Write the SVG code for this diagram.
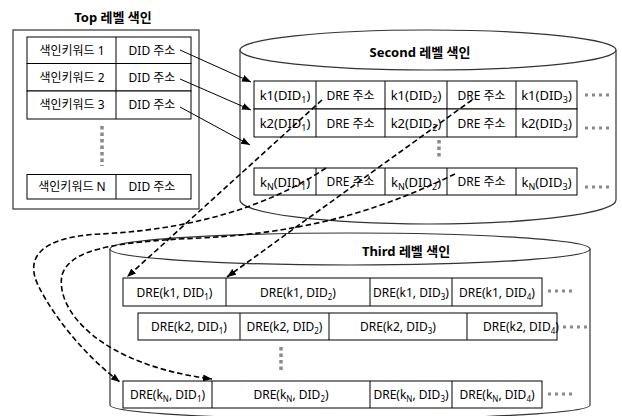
<svg xmlns="http://www.w3.org/2000/svg" width="622" height="416" viewBox="0 0 622 416">
  <style>
    text { font-family: "Noto Sans", "Noto Sans CJK KR", sans-serif; font-size: 12px; fill: #000; text-anchor: middle; }
    .title { font-size: 13px; font-weight: bold; }
    .key { font-size: 13px; }
    .sub { font-size: 8px; }
    .key .sub { font-size: 9px; }
    .cell { fill: #fff; stroke: #000; stroke-width: 1; }
    .div { stroke: #000; stroke-width: 1; }
    .cyl { fill: #fff; stroke: #333; stroke-width: 1.2; }
    .dots { stroke: #8a8a8a; stroke-width: 3; stroke-dasharray: 3 4; fill: none; }
    .vdots { stroke: #8a8a8a; stroke-width: 3.5; stroke-dasharray: 3.5 3; fill: none; }
    .link { stroke: #000; stroke-width: 1; fill: none; }
    .dash { stroke: #000; stroke-width: 1.6; stroke-dasharray: 5.5 3; fill: none; }
  </style>
  <defs>
    <marker id="ah" markerWidth="9" markerHeight="7" refX="9" refY="3.5" orient="auto" markerUnits="userSpaceOnUse">
      <path d="M0,0 L9,3.5 L0,7 z" fill="#000"/>
    </marker>
  </defs>

  <rect width="622" height="416" fill="#fff"/>

  <!-- Top level index -->
  <g id="top-index">
    <text class="title" x="113" y="22">Top 레벨 색인</text>
    <rect x="13" y="30" width="186" height="179" fill="#fff" stroke="#333" stroke-width="1.2"/>
    <g id="top-row-1">
      <rect class="cell" x="27" y="37" width="164" height="26.5"/>
      <line class="div" x1="116" y1="37" x2="116" y2="63.5"/>
      <text x="72" y="54.5">색인키워드 1</text>
      <text x="152" y="54.5">DID 주소</text>
    </g>
    <g id="top-row-2">
      <rect class="cell" x="27" y="63.5" width="164" height="27.5"/>
      <line class="div" x1="116" y1="63.5" x2="116" y2="91"/>
      <text x="72" y="81.5">색인키워드 2</text>
      <text x="152" y="81.5">DID 주소</text>
    </g>
    <g id="top-row-3">
      <rect class="cell" x="27" y="91" width="164" height="28"/>
      <line class="div" x1="116" y1="91" x2="116" y2="119"/>
      <text x="72" y="109">색인키워드 3</text>
      <text x="152" y="109">DID 주소</text>
    </g>
    <line class="vdots" x1="102" y1="126" x2="102" y2="166"/>
    <g id="top-row-n">
      <rect class="cell" x="27" y="174.5" width="164" height="24.5"/>
      <line class="div" x1="116" y1="174.5" x2="116" y2="199"/>
      <text x="72" y="191">색인키워드 N</text>
      <text x="152" y="191">DID 주소</text>
    </g>
  </g>

  <!-- Second level index -->
  <g id="second-index">
    <path class="cyl" d="M240,50 L240,200 A188,24 0 0 0 616,200 L616,50"/>
    <ellipse class="cyl" cx="428" cy="50" rx="188" ry="20"/>
    <text class="title" x="420" y="57">Second 레벨 색인</text>
    <g id="second-row-1">
      <rect class="cell" x="254" y="81" width="323" height="28"/>
      <line class="div" x1="316" y1="81" x2="316" y2="109"/>
      <line class="div" x1="385" y1="81" x2="385" y2="109"/>
      <line class="div" x1="447" y1="81" x2="447" y2="109"/>
      <line class="div" x1="516" y1="81" x2="516" y2="109"/>
      <text class="key" x="285" y="100">k1(DID<tspan class="sub" dy="3">1</tspan><tspan dy="-3">)</tspan></text>
      <text x="350.5" y="99.5">DRE 주소</text>
      <text class="key" x="416" y="100">k1(DID<tspan class="sub" dy="3">2</tspan><tspan dy="-3">)</tspan></text>
      <text x="481.5" y="99.5">DRE 주소</text>
      <text class="key" x="546.5" y="100">k1(DID<tspan class="sub" dy="3">3</tspan><tspan dy="-3">)</tspan></text>
      <line class="dots" x1="585" y1="95" x2="610" y2="95"/>
    </g>
    <g id="second-row-2">
      <rect class="cell" x="254" y="109" width="323" height="28"/>
      <line class="div" x1="316" y1="109" x2="316" y2="137"/>
      <line class="div" x1="385" y1="109" x2="385" y2="137"/>
      <line class="div" x1="447" y1="109" x2="447" y2="137"/>
      <line class="div" x1="516" y1="109" x2="516" y2="137"/>
      <text class="key" x="285" y="128">k2(DID<tspan class="sub" dy="3">1</tspan><tspan dy="-3">)</tspan></text>
      <text x="350.5" y="127.5">DRE 주소</text>
      <text class="key" x="416" y="128">k2(DID<tspan class="sub" dy="3">2</tspan><tspan dy="-3">)</tspan></text>
      <text x="481.5" y="127.5">DRE 주소</text>
      <text class="key" x="546.5" y="128">k2(DID<tspan class="sub" dy="3">3</tspan><tspan dy="-3">)</tspan></text>
      <line class="dots" x1="585" y1="128" x2="610" y2="128"/>
    </g>
    <line class="vdots" x1="439" y1="140" x2="439" y2="158"/>
    <g id="second-row-n">
      <rect class="cell" x="254" y="168" width="323" height="27"/>
      <line class="div" x1="316" y1="168" x2="316" y2="195"/>
      <line class="div" x1="385" y1="168" x2="385" y2="195"/>
      <line class="div" x1="447" y1="168" x2="447" y2="195"/>
      <line class="div" x1="516" y1="168" x2="516" y2="195"/>
      <text class="key" x="285" y="186.5">k<tspan class="sub" dy="3">N</tspan><tspan dy="-3">(DID</tspan><tspan class="sub" dy="3">1</tspan><tspan dy="-3">)</tspan></text>
      <text x="350.5" y="186">DRE 주소</text>
      <text class="key" x="416" y="186.5">k<tspan class="sub" dy="3">N</tspan><tspan dy="-3">(DID</tspan><tspan class="sub" dy="3">2</tspan><tspan dy="-3">)</tspan></text>
      <text x="481.5" y="186">DRE 주소</text>
      <text class="key" x="546.5" y="186.5">k<tspan class="sub" dy="3">N</tspan><tspan dy="-3">(DID</tspan><tspan class="sub" dy="3">3</tspan><tspan dy="-3">)</tspan></text>
      <line class="dots" x1="585" y1="187" x2="610" y2="187"/>
    </g>
  </g>

  <!-- Third level index -->
  <g id="third-index">
    <path class="cyl" d="M110,249 L110,405 A240,14 0 0 0 590,405 L590,249"/>
    <ellipse class="cyl" cx="350" cy="249" rx="240" ry="16"/>
    <text class="title" x="406" y="256">Third 레벨 색인</text>
    <g id="third-row-1">
      <rect class="cell" x="123" y="278" width="419" height="28"/>
      <line class="div" x1="226" y1="278" x2="226" y2="306"/>
      <line class="div" x1="370" y1="278" x2="370" y2="306"/>
      <line class="div" x1="452" y1="278" x2="452" y2="306"/>
      <text x="174.5" y="296.5">DRE(k1, DID<tspan class="sub" dy="3">1</tspan><tspan dy="-3">)</tspan></text>
      <text x="298" y="296.5">DRE(k1, DID<tspan class="sub" dy="3">2</tspan><tspan dy="-3">)</tspan></text>
      <text x="411" y="296.5">DRE(k1, DID<tspan class="sub" dy="3">3</tspan><tspan dy="-3">)</tspan></text>
      <text x="497" y="296.5">DRE(k1, DID<tspan class="sub" dy="3">4</tspan><tspan dy="-3">)</tspan></text>
      <line class="dots" x1="548" y1="291" x2="574" y2="291"/>
    </g>
    <g id="third-row-2">
      <rect class="cell" x="138" y="313" width="419" height="27"/>
      <line class="div" x1="240" y1="313" x2="240" y2="340"/>
      <line class="div" x1="329" y1="313" x2="329" y2="340"/>
      <line class="div" x1="467" y1="313" x2="467" y2="340"/>
      <text x="189" y="331">DRE(k2, DID<tspan class="sub" dy="3">1</tspan><tspan dy="-3">)</tspan></text>
      <text x="284.5" y="331">DRE(k2, DID<tspan class="sub" dy="3">2</tspan><tspan dy="-3">)</tspan></text>
      <text x="398" y="331">DRE(k2, DID<tspan class="sub" dy="3">3</tspan><tspan dy="-3">)</tspan></text>
      <text x="483" y="331" style="text-anchor:start">DRE(k2, DID<tspan class="sub" dy="3">4</tspan><tspan dy="-3">)</tspan></text>
      <line class="dots" x1="563" y1="327" x2="589" y2="327"/>
    </g>
    <line class="vdots" x1="281" y1="347" x2="281" y2="373"/>
    <g id="third-row-n">
      <rect class="cell" x="123" y="381" width="419" height="27"/>
      <line class="div" x1="212" y1="381" x2="212" y2="408"/>
      <line class="div" x1="370" y1="381" x2="370" y2="408"/>
      <line class="div" x1="452" y1="381" x2="452" y2="408"/>
      <text x="167.5" y="399">DRE(k<tspan class="sub" dy="3">N</tspan><tspan dy="-3">, DID</tspan><tspan class="sub" dy="3">1</tspan><tspan dy="-3">)</tspan></text>
      <text x="291" y="399">DRE(k<tspan class="sub" dy="3">N</tspan><tspan dy="-3">, DID</tspan><tspan class="sub" dy="3">2</tspan><tspan dy="-3">)</tspan></text>
      <text x="411" y="399">DRE(k<tspan class="sub" dy="3">N</tspan><tspan dy="-3">, DID</tspan><tspan class="sub" dy="3">3</tspan><tspan dy="-3">)</tspan></text>
      <text x="497" y="399">DRE(k<tspan class="sub" dy="3">N</tspan><tspan dy="-3">, DID</tspan><tspan class="sub" dy="3">4</tspan><tspan dy="-3">)</tspan></text>
      <line class="dots" x1="548" y1="394" x2="574" y2="394"/>
    </g>
  </g>

  <!-- Connectors -->
  <g id="connectors">
    <line class="link" x1="180" y1="50" x2="251" y2="82" marker-end="url(#ah)"/>
    <line class="link" x1="180" y1="79" x2="251" y2="110" marker-end="url(#ah)"/>
    <line class="link" x1="180" y1="107" x2="250" y2="145" marker-end="url(#ah)"/>
    <line class="dash" x1="322" y1="100" x2="127" y2="277" marker-end="url(#ah)"/>
    <line class="dash" x1="472" y1="100" x2="227" y2="277" marker-end="url(#ah)"/>
    <path class="dash" d="M326,168 C260,212 180,230 100,234 C40,237 25,258 38,285 C55,320 90,360 120,382" marker-end="url(#ah)"/>
    <path class="dash" d="M455,174 C390,205 320,232 200,238 C110,242 70,250 62,275 C55,310 100,365 212,379" marker-end="url(#ah)"/>
  </g>
</svg>
